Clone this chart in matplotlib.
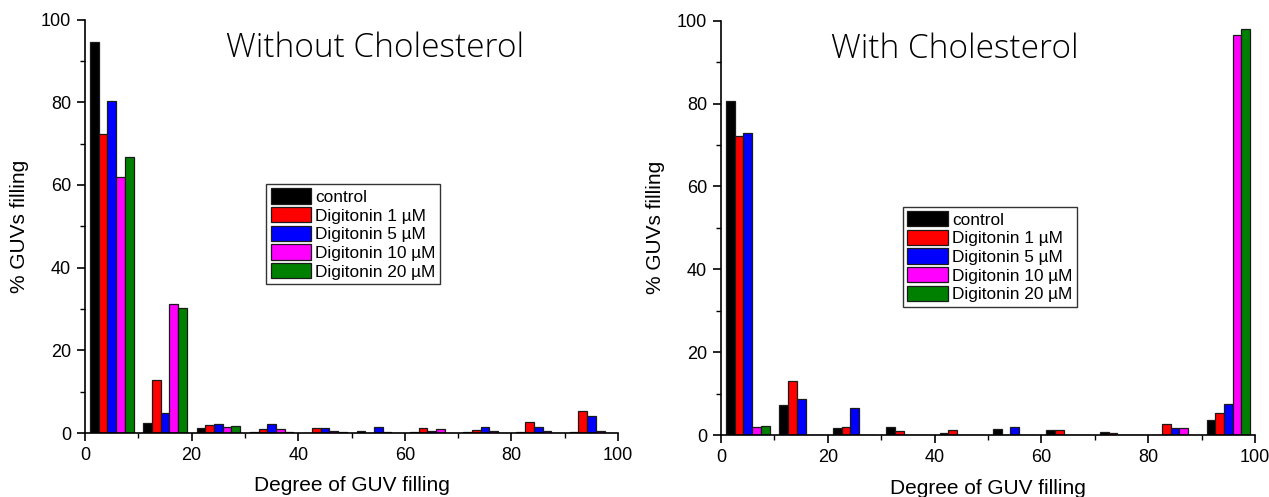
import matplotlib
matplotlib.use("Agg")
import matplotlib.pyplot as plt
from matplotlib.ticker import MultipleLocator
import numpy as np

plt.rcParams['font.family'] = ['Liberation Sans', 'DejaVu Sans']

bins = [0, 10, 20, 30, 40, 50, 60, 70, 80, 90]
series = ["control", "Digitonin 1 µM", "Digitonin 5 µM", "Digitonin 10 µM", "Digitonin 20 µM"]
colors = ["#000000", "#FF0000", "#0000FF", "#FF00FF", "#008000"]

without_chol = {
    "control":         [94.6, 2.3, 1.2, 0.25, 0.0, 0.55, 0.15, 0.15, 0.15, 0.2],
    "Digitonin 1 µM":  [72.4, 12.9, 2.0, 1.0, 1.3, 0.0, 1.3, 0.65, 2.7, 5.2],
    "Digitonin 5 µM":  [80.3, 4.9, 2.1, 2.1, 1.3, 1.4, 0.55, 1.4, 1.4, 4.2],
    "Digitonin 10 µM": [62.0, 31.3, 1.5, 1.0, 0.55, 0.3, 1.0, 0.4, 0.5, 0.5],
    "Digitonin 20 µM": [66.7, 30.3, 1.8, 0.3, 0.25, 0.0, 0.0, 0.0, 0.0, 0.1],
}
with_chol = {
    "control":         [80.6, 7.2, 1.8, 1.9, 0.4, 1.5, 1.3, 0.8, 0.1, 3.7],
    "Digitonin 1 µM":  [72.2, 13.0, 1.9, 0.9, 1.1, 0.0, 1.3, 0.6, 2.7, 5.2],
    "Digitonin 5 µM":  [73.0, 8.7, 6.6, 0.0, 0.0, 1.85, 0.0, 0.0, 1.8, 7.6],
    "Digitonin 10 µM": [1.85, 0.0, 0.0, 0.0, 0.0, 0.0, 0.0, 0.0, 1.7, 96.5],
    "Digitonin 20 µM": [2.1, 0.0, 0.0, 0.0, 0.0, 0.0, 0.0, 0.0, 0.0, 98.0],
}

W, H = 1269, 497
fig = plt.figure(figsize=(W / 100, H / 100), dpi=100)

def make_ax(x0, x1, ytop, ybot):
    return fig.add_axes([x0 / W, 1 - ybot / H, (x1 - x0) / W, (ybot - ytop) / H])

ax1 = make_ax(85, 618, 19.5, 433)
ax2 = make_ax(721, 1255, 20.7, 435)

bw = 1.63
start = 0.95

def draw(ax, data, title, tx, ty, lx, ly):
    x = np.array(bins, dtype=float)
    for j, s in enumerate(series):
        ax.bar(x + start + j * bw, data[s], width=bw, align='edge',
               color=colors[j], edgecolor='#1a1a1a', linewidth=0.9, label=s)
    ax.set_xlim(0, 100)
    ax.set_ylim(0, 100)
    ax.xaxis.set_major_locator(MultipleLocator(20))
    ax.xaxis.set_minor_locator(MultipleLocator(10))
    ax.yaxis.set_major_locator(MultipleLocator(20))
    ax.yaxis.set_minor_locator(MultipleLocator(10))
    for sp in ['top', 'right']:
        ax.spines[sp].set_visible(False)
    for sp in ['left', 'bottom']:
        ax.spines[sp].set_linewidth(1.2)
    ax.tick_params(which='major', direction='out', length=6, width=1.2,
                   labelsize=13, pad=4)
    ax.tick_params(which='minor', direction='out', length=3.5, width=1.0)
    ax.set_xlabel("Degree of GUV filling", fontsize=15, va='center')
    ax.xaxis.set_label_coords(0.5, -0.128)
    ax.set_ylabel("% GUVs filling", fontsize=15, va='center')
    ax.yaxis.set_label_coords(-0.123, 0.5)
    ax.text(tx, ty, title, transform=ax.transAxes, ha='center', va='center',
            fontsize=24, family=['Open Sans', 'DejaVu Sans'], fontweight='light')
    leg = ax.legend(loc='upper left', bbox_to_anchor=(lx, ly), fontsize=12.4,
                    handlelength=2.35, handleheight=1.0, labelspacing=0.12,
                    handletextpad=0.25, borderpad=0.25, borderaxespad=0,
                    fancybox=False, framealpha=1)
    leg.get_frame().set_edgecolor('#333333')
    leg.get_frame().set_linewidth(1.0)

draw(ax1, without_chol, "Without Cholesterol", 0.544, 0.93, 0.340, 0.602)
draw(ax2, with_chol, "With Cholesterol", 0.438, 0.93, 0.341, 0.551)

fig.savefig("out.png", dpi=100)
